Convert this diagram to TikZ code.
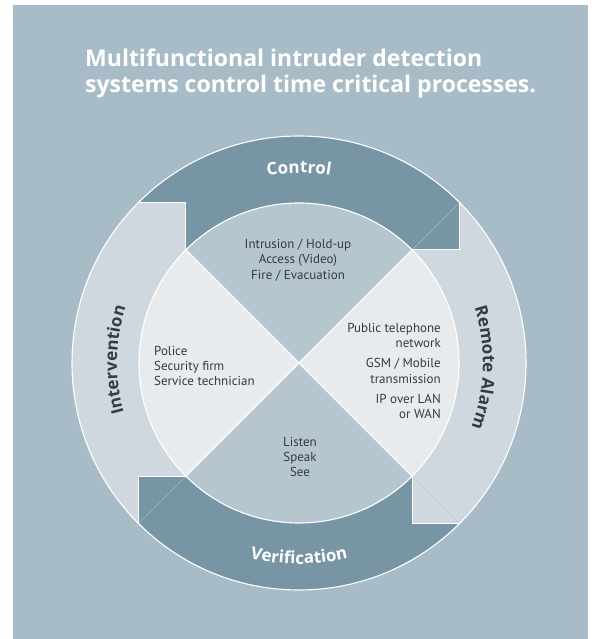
\documentclass[tikz,border=0pt]{standalone}
\usepackage{fontspec}
\setmainfont{PT Sans}
\newfontfamily\opensans{Open Sans}
\usetikzlibrary{decorations.text}
\definecolor{bgc}{HTML}{A8BCC7}
\definecolor{ringdark}{HTML}{7895A6}
\definecolor{ringlight}{HTML}{CFD8DE}
\definecolor{innerlight}{HTML}{E7EBEE}
\definecolor{innermed}{HTML}{B5C6CF}
\definecolor{txt}{HTML}{383A3C}
\newcommand{\lblfont}{\opensans\bfseries\fontsize{17}{19}\selectfont}
\tikzset{
  wline/.style={draw=white,line width=1.1pt,line join=miter},
  seam/.style={draw=white,opacity=0.12,line width=0.5pt},
  inner/.style={text=txt,font=\fontsize{13}{15.3}\selectfont,inner sep=0pt},
  titletext/.style={text=white,font=\opensans\bfseries\fontsize{23}{27}\selectfont,inner sep=0pt,anchor=base west}
}
\begin{document}
\begin{tikzpicture}[x=1pt,y=1pt]
\useasboundingbox (0,0) rectangle (595,639);
\fill[white] (0,0) rectangle (595,639);
\fill[bgc] (13,0) rectangle (588,634);
% title
\node[titletext] (title1) at (85,572.3) {Multifunctional intruder detection};
\node[titletext] (title2) at (85,546) {systems control time critical processes.};
% geometry
\coordinate (C) at (299,276);
\foreach \a in {45,135,225,315}{
  \path (C) ++(\a:227) coordinate (O\a);
  \path (C) ++(\a:160) coordinate (I\a);
}
% ring sectors
\fill[ringdark] (O45) arc[start angle=45,end angle=135,radius=227] -- (I135) arc[start angle=135,end angle=45,radius=160] -- cycle;
\fill[ringlight] (O315) arc[start angle=-45,end angle=45,radius=227] -- (I45) arc[start angle=45,end angle=-45,radius=160] -- cycle;
\fill[ringdark] (O225) arc[start angle=225,end angle=315,radius=227] -- (I315) arc[start angle=315,end angle=225,radius=160] -- cycle;
\fill[ringlight] (O135) arc[start angle=135,end angle=225,radius=227] -- (I225) arc[start angle=225,end angle=135,radius=160] -- cycle;
% arrow tips
\fill[ringdark] (O45) |- (I45) -- cycle;
\fill[ringlight] (I315) |- (O315) -- cycle;
\fill[ringdark] (I225) -| (O225) -- cycle;
\fill[ringlight] (O135) -| (I135) -- cycle;
\foreach \a in {45,135,225,315}{ \draw[seam] (O\a) -- (I\a); }
\draw[wline] (O45) |- (I45);
\draw[wline] (I315) |- (O315);
\draw[wline] (I225) -| (O225);
\draw[wline] (O135) -| (I135);
% inner disc
\fill[innermed] (C) -- (I45) arc[start angle=45,end angle=135,radius=160] -- cycle;
\fill[innerlight] (C) -- (I315) arc[start angle=-45,end angle=45,radius=160] -- cycle;
\fill[innermed] (C) -- (I225) arc[start angle=225,end angle=315,radius=160] -- cycle;
\fill[innerlight] (C) -- (I135) arc[start angle=135,end angle=225,radius=160] -- cycle;
\draw[wline] (I45) -- (I225);
\draw[wline] (I135) -- (I315);
\draw[wline] (C) circle[radius=160];
\draw[wline] (C) circle[radius=227];
% ring labels
\path[decorate,decoration={text along path,text align=center,text color=white,text={|\lblfont|Control}}]
  (C) ++(120:190) arc[start angle=120,end angle=60,radius=190];
\path[decorate,decoration={text along path,text align=center,text color=white,text={|\lblfont|Verification}}]
  (C) ++(-125:201) arc[start angle=-125,end angle=-55,radius=201];
\path[decorate,decoration={text along path,text align=center,text color=txt,text={|\lblfont|Intervention}}]
  (C) ++(214:182) arc[start angle=214,end angle=144,radius=182];
\path[decorate,decoration={text along path,text align=center,text color=txt,text={|\lblfont|Remote Alarm}}]
  (C) ++(34:184) arc[start angle=34,end angle=-37,radius=184];
% inner texts
\node[inner,align=center] (ctrl) at (298,379) {Intrusion / Hold-up\\Access (Video)\\Fire / Evacuation};
\node[inner,align=center] (verif) at (300,182) {Listen\\Speak\\See};
\node[inner,align=left,anchor=west] (interv) at (154,273) {Police\\Security firm\\Service technician};
\node[inner,align=right,anchor=east] (remote) at (441,268) {Public telephone\\network\\[5pt]GSM / Mobile\\transmission\\[5pt]IP over LAN\\or WAN};
\end{tikzpicture}
\end{document}
